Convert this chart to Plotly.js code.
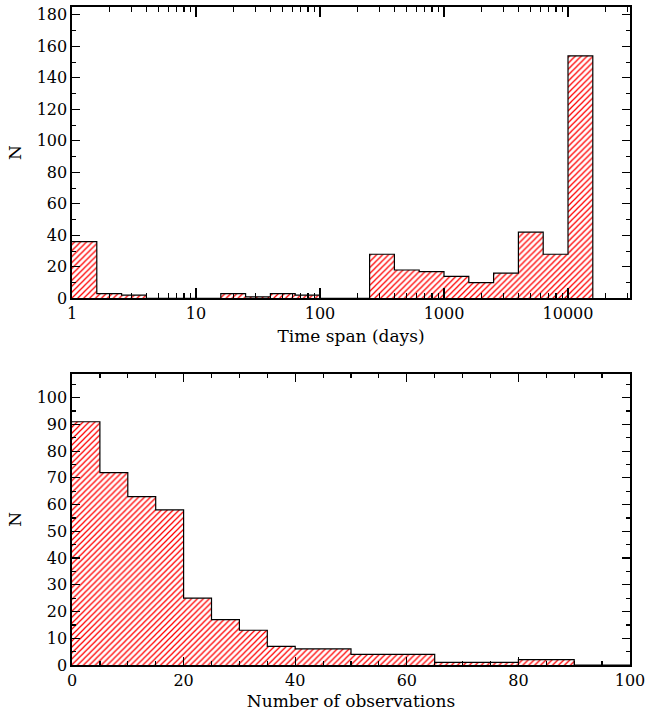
<!DOCTYPE html>
<html>
<head>
<meta charset="utf-8">
<script src="https://cdn.plot.ly/plotly-3.0.1.min.js"></script>
<style>html,body{margin:0;padding:0;background:#fff}#chart{width:658px;height:711px}</style>
</head>
<body>
<div id="chart"></div>
<script>
// Top panel: time span histogram (bins of 0.2 dex in log10(days))
var spanEdgesLog10 = [0.0,0.2,0.4,0.6,0.8,1.0,1.2,1.4,1.6,1.8,2.0,2.2,2.4,2.6,2.8,3.0,3.2,3.4,3.6,3.8,4.0,4.2];
var spanCounts     = [36, 3, 2, 0, 0, 0, 3, 1, 3, 2, 0, 0, 28, 18, 17, 14, 10, 16, 42, 28, 154];
var spanTickVals   = [1, 10, 100, 1000, 10000];
var spanTickText   = ["1", "10", "100", "1000", "10000"];

// Bottom panel: number of observations histogram (bins of 5)
var obsEdges  = [0,5,10,15,20,25,30,35,40,45,50,55,60,65,70,75,80,85,90,95,100];
var obsCounts = [91, 72, 63, 58, 25, 17, 13, 7, 6, 6, 4, 4, 4, 1, 1, 1, 2, 2, 0, 0];

var spanX = spanEdgesLog10.map(function(v){ return Math.pow(10, v); });
var spanY = spanCounts.concat([0]);
var obsY = obsCounts.concat([0]);

var hatch = {shape: '/', fgcolor: '#ff0000', bgcolor: '#ffffff', size: 4.2, solidity: 0.3};
var fontTick = {family: 'DejaVu Serif', size: 16, color: '#000'};
var fontTitle = {family: 'DejaVu Serif', size: 17, color: '#000'};

var logMinor = [];
for (var d = 0; d < 5; d++) {
  for (var m = 2; m <= 9; m++) logMinor.push(m * Math.pow(10, d));
}

var traces = [
  {x: spanX, y: spanY, type: 'scatter', mode: 'lines', line: {shape: 'hv', color: '#000', width: 1.2},
   fill: 'tozeroy', fillcolor: 'rgba(0,0,0,0)', fillpattern: hatch, xaxis: 'x', yaxis: 'y', hoverinfo: 'skip'},
  {x: obsEdges, y: obsY, type: 'scatter', mode: 'lines', line: {shape: 'hv', color: '#000', width: 1.2},
   fill: 'tozeroy', fillcolor: 'rgba(0,0,0,0)', fillpattern: hatch, xaxis: 'x2', yaxis: 'y2', hoverinfo: 'skip'}
];

var axCommon = {showline: true, linecolor: '#000', linewidth: 1.6, mirror: 'allticks', ticks: 'inside',
  tickcolor: '#000', tickwidth: 1.2, showgrid: false, zeroline: false, tickfont: fontTick, fixedrange: true,
  automargin: false};

function ax(extra) { return Object.assign({}, axCommon, extra); }

var layout = {
  width: 658, height: 711,
  margin: {l: 72, r: 28, t: 7, b: 46},
  paper_bgcolor: '#fff', plot_bgcolor: '#fff',
  showlegend: false,
  xaxis: ax({type: 'log', range: [0, 4.5], tickmode: 'array', tickvals: spanTickVals, ticktext: spanTickText,
    ticklen: 10, domain: [0, 1], anchor: 'y',
    minor: {tickmode: 'array', tickvals: logMinor, ticks: 'inside', ticklen: 5, tickcolor: '#000', tickwidth: 1.2},
    title: {text: 'Time span (days)', font: fontTitle, standoff: 8}}),
  yaxis: ax({range: [0, 185], dtick: 20, ticklen: 8, domain: [0.5572, 1], anchor: 'x',
    minor: {dtick: 10, ticks: 'inside', ticklen: 4, tickcolor: '#000', tickwidth: 1.2},
    title: {text: 'N', font: fontTitle, standoff: 10}}),
  xaxis2: ax({range: [0, 100], dtick: 20, ticklen: 8, domain: [0, 1], anchor: 'y2',
    minor: {dtick: 5, ticks: 'inside', ticklen: 4, tickcolor: '#000', tickwidth: 1.2},
    title: {text: 'Number of observations', font: fontTitle, standoff: 8}}),
  yaxis2: ax({range: [0, 109], dtick: 10, ticklen: 8, domain: [0, 0.4428], anchor: 'x2',
    minor: {dtick: 5, ticks: 'inside', ticklen: 4, tickcolor: '#000', tickwidth: 1.2},
    title: {text: 'N', font: fontTitle, standoff: 10}})
};

Plotly.newPlot('chart', traces, layout, {staticPlot: true, displayModeBar: false});
</script>
</body>
</html>
